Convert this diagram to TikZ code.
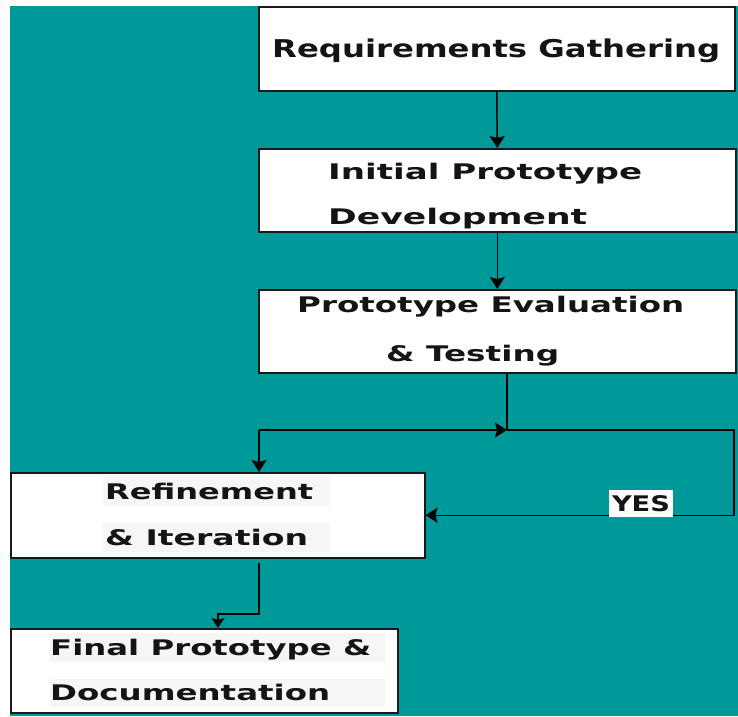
\documentclass[tikz,border=0pt]{standalone}
\usepackage{fontspec}
\setmainfont{DejaVu Sans}
\usetikzlibrary{arrows.meta}
\definecolor{bgteal}{RGB}{0,153,153}
\definecolor{hilite}{RGB}{246,246,246}
% stretch a line of text horizontally to a given width, keeping its height
\newcommand\stretchto[2]{\resizebox{#1}{\height}{#2}}

\begin{document}
\begin{tikzpicture}[x=1pt,y=-1pt,
  box/.style={draw=black!90, line width=1.5pt, fill=white, inner sep=0pt, anchor=north west},
  lbl/.style={inner sep=0pt, anchor=base west, text=black!92, font=\bfseries\fontsize{21.5}{21.5}\selectfont},
  biglbl/.style={lbl, font=\bfseries\fontsize{24.5}{24.5}\selectfont},
  link/.style={line width=1.5pt, draw=black},
  tip/.style={-{Stealth[length=12pt,width=15pt,inset=2pt]}},
  smalltip/.style={-{Stealth[length=10pt,width=13pt,inset=2pt]}}]

\useasboundingbox (0,0) rectangle (738,716);
\fill[bgteal] (10,6) rectangle (738,716);

% process boxes
\node[box, minimum width=476pt, minimum height=84pt] (b1) at (258,6) {};
\node[box, minimum width=477pt, minimum height=83pt] (b2) at (258,148) {};
\node[box, minimum width=477pt, minimum height=83pt] (b3) at (258,289) {};
\node[box, minimum width=414pt, minimum height=85pt] (b4) at (10,472) {};
\node[box, minimum width=387pt, minimum height=84pt] (b5) at (10,628) {};

% light text highlights in the lower boxes
\fill[hilite] (103,477) rectangle (330,506);
\fill[hilite] (103,523) rectangle (330,552);
\fill[hilite] (50,633) rectangle (385,662);
\fill[hilite] (50,679) rectangle (385,707);

% box texts
\node[biglbl] (t1) at (272,57) {\stretchto{448pt}{Requirements Gathering}};
\node[lbl] (t2a) at (328,179) {\stretchto{314pt}{Initial Prototype}};
\node[lbl] (t2b) at (328,224) {\stretchto{259pt}{Development}};
\node[lbl] (t3a) at (297,312) {\stretchto{387pt}{Prototype Evaluation}};
\node[lbl] (t3b) at (386,361) {\stretchto{173pt}{\& Testing}};
\node[lbl] (t4a) at (105,499) {\stretchto{208pt}{Refinement}};
\node[lbl] (t4b) at (105,545) {\stretchto{203pt}{\& Iteration}};
\node[lbl] (t5a) at (50,655) {\stretchto{321pt}{Final Prototype \&}};
\node[lbl] (t5b) at (50,700) {\stretchto{280pt}{Documentation}};

% connector junctions
\coordinate (j) at (507,430);
\coordinate (jl) at (259,430);
\coordinate (jr) at (734,430);
\coordinate (k1) at (259,614);
\coordinate (k2) at (218,614);

% connectors
\draw[link,tip] (b1.south) -- (b2.north);
\draw[link,tip] (b2.south) -- (b3.north);
\draw[link] (b3.south -| j) -- (j);
\draw[link,tip] (jl) -- (j);
\draw[link,tip] (jl) -- (jl |- b4.north);
\draw[link,tip] (j) -- (jr) |- (b4.east);
\draw[link,smalltip,shorten <=4pt] (b4.south -| k1) -- (k1) -- (k2) -- (k2 |- b5.north);

% loop label
\node[fill=white, inner sep=0pt, minimum width=64pt, minimum height=27pt,
      text=black!92, font=\bfseries\fontsize{21.5}{21.5}\selectfont] (yes) at (641,503.5)
      {\stretchto{58pt}{YES}};
\end{tikzpicture}
\end{document}
